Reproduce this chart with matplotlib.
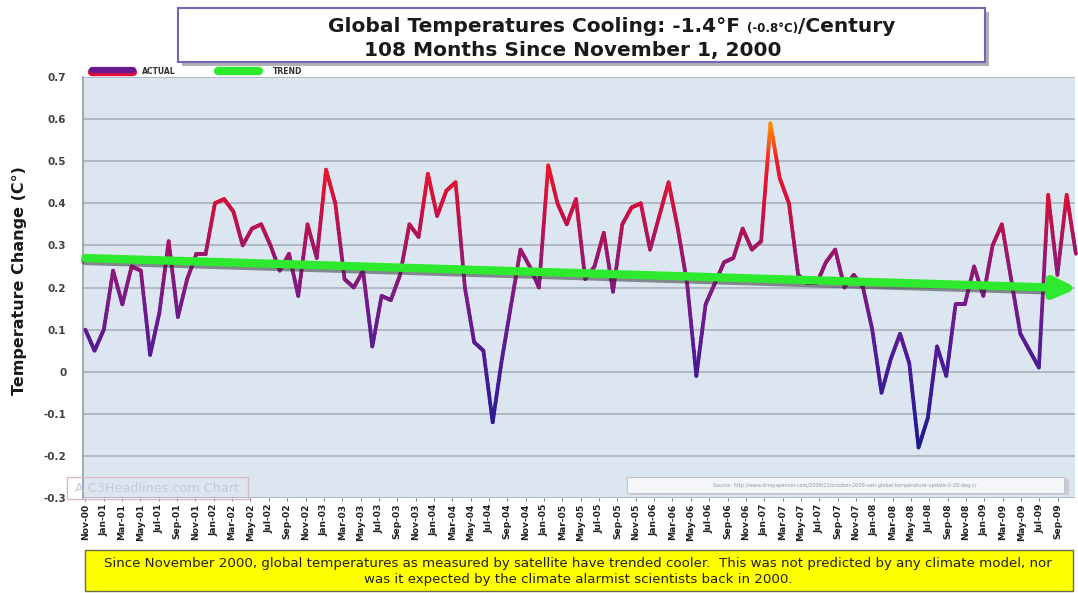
import numpy as np
import matplotlib
matplotlib.use("Agg")
import matplotlib.pyplot as plt
from matplotlib.collections import LineCollection
from matplotlib.colors import LinearSegmentedColormap, Normalize
from matplotlib.patches import Rectangle

# ---------------- data ----------------
actual = [0.10, 0.05, 0.10, 0.24, 0.16, 0.25, 0.24, 0.04, 0.14, 0.31, 0.13, 0.22, 0.28, 0.28,
          0.40, 0.41, 0.38, 0.30, 0.34, 0.35, 0.30, 0.24, 0.28, 0.18, 0.35, 0.27, 0.48,
          0.40, 0.22, 0.20, 0.24, 0.06, 0.18, 0.17, 0.23, 0.35, 0.32, 0.47, 0.37, 0.43, 0.45,
          0.20, 0.07, 0.05, -0.12, 0.03, 0.16, 0.29, 0.25, 0.20, 0.49, 0.40, 0.35, 0.41, 0.22,
          0.25, 0.33, 0.19, 0.35, 0.39, 0.40, 0.29, 0.37, 0.45, 0.34, 0.21, -0.01, 0.16, 0.21,
          0.26, 0.27, 0.34, 0.29, 0.31, 0.59, 0.46, 0.40, 0.23, 0.21, 0.21, 0.26, 0.29,
          0.20, 0.23, 0.20, 0.10, -0.05, 0.03, 0.09, 0.02, -0.18, -0.11, 0.06, -0.01, 0.16,
          0.16, 0.25, 0.18, 0.30, 0.35, 0.22, 0.09, 0.05, 0.01, 0.42, 0.23, 0.42, 0.28]
trend_start = 0.27
trend_end = 0.198
tick_labels = ["Nov-00", "Jan-01", "Mar-01", "May-01", "Jul-01", "Sep-01", "Nov-01",
               "Jan-02", "Mar-02", "May-02", "Jul-02", "Sep-02", "Nov-02",
               "Jan-03", "Mar-03", "May-03", "Jul-03", "Sep-03", "Nov-03",
               "Jan-04", "Mar-04", "May-04", "Jul-04", "Sep-04", "Nov-04",
               "Jan-05", "Mar-05", "May-05", "Jul-05", "Sep-05", "Nov-05",
               "Jan-06", "Mar-06", "May-06", "Jul-06", "Sep-06", "Nov-06",
               "Jan-07", "Mar-07", "May-07", "Jul-07", "Sep-07", "Nov-07",
               "Jan-08", "Mar-08", "May-08", "Jul-08", "Sep-08", "Nov-08",
               "Jan-09", "Mar-09", "May-09", "Jul-09", "Sep-09"]
y_ticks = [-0.3, -0.2, -0.1, 0.0, 0.1, 0.2, 0.3, 0.4, 0.5, 0.6, 0.7]
y_tick_labels = ["-0.3", "-0.2", "-0.1", "0", "0.1", "0.2", "0.3", "0.4", "0.5", "0.6", "0.7"]

title1a = "Global Temperatures Cooling: -1.4°F "
title1b = "(-0.8°C)"
title1c = "/Century"
title2 = "108 Months Since November 1, 2000"
ylabel = "Temperature Change (C°)"
note1 = ("Since November 2000, global temperatures as measured by satellite have trended cooler.  "
         "This was not predicted by any climate model, nor")
note2 = "was it expected by the climate alarmist scientists back in 2000."
watermark = "A C3Headlines.com Chart"
source = "Source: http://www.drroyspencer.com/2009/11/october-2009-uah-global-temperature-update-0-28-deg-c/"

# ---------------- figure ----------------
W, H = 1078, 593
fig = plt.figure(figsize=(W / 100, H / 100), dpi=100)
fig.patch.set_facecolor("white")

def fx(px):
    return px / W

def fy(py):
    return 1 - py / H

ax_l, ax_r, ax_t, ax_b = 83, 1075, 77, 498
ax = fig.add_axes([fx(ax_l), fy(ax_b), fx(ax_r - ax_l), (ax_b - ax_t) / H])
ax.set_facecolor("#dce6f1")

n = len(actual)
x = np.arange(n)
ax.set_xlim(-0.25, 106.9)
ax.set_ylim(-0.3, 0.7)

ax.set_yticks(y_ticks)
ax.set_yticklabels(y_tick_labels, fontsize=7.5, fontweight="bold", color="#404040")
ax.tick_params(axis="y", length=0, pad=12)
ax.set_xticks(np.arange(0, 2 * len(tick_labels), 2) * 0.991)
ax.set_xticklabels(tick_labels, rotation=90, fontsize=6.6, fontweight="bold", color="#202020")
ax.tick_params(axis="x", length=2, pad=2, color="#808080")
ax.grid(axis="y", color="#a8b0ba", lw=1.2)
ax.set_axisbelow(True)
for s in ["top", "right", "bottom"]:
    ax.spines[s].set_visible(False)
ax.spines["left"].set_color("#9aa3ad")
ax.spines["left"].set_linewidth(1.3)

# ---------------- actual line with value gradient ----------------
cmap = LinearSegmentedColormap.from_list(
    "heat",
    [(0.0, "#1c1a8e"), (0.25, "#4a1a98"), (0.45, "#761a8a"), (0.6, "#9c166a"),
     (0.75, "#d0103e"), (0.88, "#f01a2a"), (1.0, "#ff9400")])
norm = Normalize(-0.18, 0.59)
xs, ys = [], []
for i in range(n - 1):
    t = np.linspace(0, 1, 16)
    xs.append(x[i] + t * (x[i + 1] - x[i]))
    ys.append(actual[i] + t * (actual[i + 1] - actual[i]))
xx = np.concatenate(xs)
yy = np.concatenate(ys)
pts = np.column_stack([xx, yy]).reshape(-1, 1, 2)
segs = np.concatenate([pts[:-1], pts[1:]], axis=1)
lc = LineCollection(segs, cmap=cmap, norm=norm, linewidths=2.7, capstyle="round",
                    joinstyle="round", clip_on=False, zorder=3)
lc.set_array((yy[:-1] + yy[1:]) / 2)
ax.add_collection(lc)

# ---------------- trend arrow ----------------
x_end = 107.2
slope = (trend_end - trend_start) / x_end
ax.plot([0, x_end - 3], [trend_start - 0.007, trend_start + slope * (x_end - 3) - 0.007],
        color="#2a2a2a", lw=6, alpha=0.5, solid_capstyle="round", zorder=4, clip_on=False)
ax.annotate("", xy=(x_end, trend_end), xytext=(0, trend_start),
            arrowprops=dict(arrowstyle="-|>,head_length=1.3,head_width=0.6", lw=6,
                            color="#2eea2e", shrinkA=0, shrinkB=0, capstyle="round"),
            zorder=5, annotation_clip=False)

# ---------------- title box ----------------
fig.patches.append(Rectangle((fx(182), fy(66)), fx(985 - 178), (66 - 12) / H,
                             transform=fig.transFigure, facecolor="#b0b0b8", edgecolor="none", zorder=1))
fig.patches.append(Rectangle((fx(178), fy(62)), fx(985 - 178), (62 - 8) / H,
                             transform=fig.transFigure, facecolor="white", edgecolor="#7466b4",
                             lw=1.5, zorder=2))

fig.canvas.draw()
r = fig.canvas.get_renderer()
parts = [(title1a, 14.5), (title1b, 8.5), (title1c, 14.5)]
texts = []
for s, fs in parts:
    t = fig.text(0, fy(32), s, fontsize=fs, fontweight="bold", color="#1a1a1a",
                 ha="left", va="baseline", zorder=3)
    texts.append(t)
widths = [t.get_window_extent(renderer=r).width for t in texts]
cur = 612 - sum(widths) / 2
for t, w in zip(texts, widths):
    t.set_x(fx(cur))
    cur += w
fig.text(fx(573), fy(56), title2, fontsize=14.5, fontweight="bold", color="#1a1a1a",
         ha="center", va="baseline", zorder=3)

# ---------------- legend ----------------
leg_y = fy(71)
fig.add_artist(plt.Line2D([fx(92), fx(133)], [leg_y - 0.002, leg_y - 0.002], color="#e0103a", lw=6,
                          solid_capstyle="round", transform=fig.transFigure))
fig.add_artist(plt.Line2D([fx(92), fx(133)], [leg_y + 0.001, leg_y + 0.001], color="#6a1a90", lw=4.5,
                          solid_capstyle="round", transform=fig.transFigure))
fig.text(fx(142), leg_y, "ACTUAL", fontsize=5.5, fontweight="bold", color="#303030", va="center")
fig.add_artist(plt.Line2D([fx(218), fx(259)], [leg_y, leg_y], color="#2eea2e", lw=6,
                          solid_capstyle="round", transform=fig.transFigure))
fig.text(fx(273), leg_y, "TREND", fontsize=5.5, fontweight="bold", color="#303030", va="center")

# ---------------- y label ----------------
fig.text(fx(20), fy(281), ylabel, rotation=90, fontsize=11.5, fontweight="bold",
         color="#1a1a1a", ha="center", va="center")

# ---------------- watermark & source ----------------
fig.patches.append(Rectangle((fx(67), fy(499)), fx(248 - 67), (499 - 477) / H,
                             transform=fig.transFigure, facecolor="none", edgecolor="#d9b9c3",
                             lw=1.0, zorder=6))
fig.text(fx(157), fy(489), watermark, fontsize=9.2, color="#c4c9d4", ha="center", va="center", zorder=6)
fig.patches.append(Rectangle((fx(630), fy(495)), fx(1067 - 628), (495 - 479) / H,
                             transform=fig.transFigure, facecolor="#c8ccd2", edgecolor="none", zorder=6))
fig.patches.append(Rectangle((fx(627), fy(493)), fx(1064 - 627), (493 - 477) / H,
                             transform=fig.transFigure, facecolor="#f4f6f9", edgecolor="#c0c4ca",
                             lw=0.8, zorder=7))
fig.text(fx(845), fy(485.5), source, fontsize=3.6, color="#9098a4", ha="center", va="center", zorder=8)

# ---------------- bottom note ----------------
fig.patches.append(Rectangle((fx(85), fy(591)), fx(1073 - 85), (591 - 550) / H,
                             transform=fig.transFigure, facecolor="#ffff00", edgecolor="#6b6b4a",
                             lw=1.0, zorder=2))
fig.text(fx(578), fy(563), note1, fontsize=9.6, color="#222222", ha="center", va="center", zorder=3)
fig.text(fx(578), fy(580), note2, fontsize=9.6, color="#222222", ha="center", va="center", zorder=3)

fig.savefig("out.png", dpi=100, facecolor="white")
